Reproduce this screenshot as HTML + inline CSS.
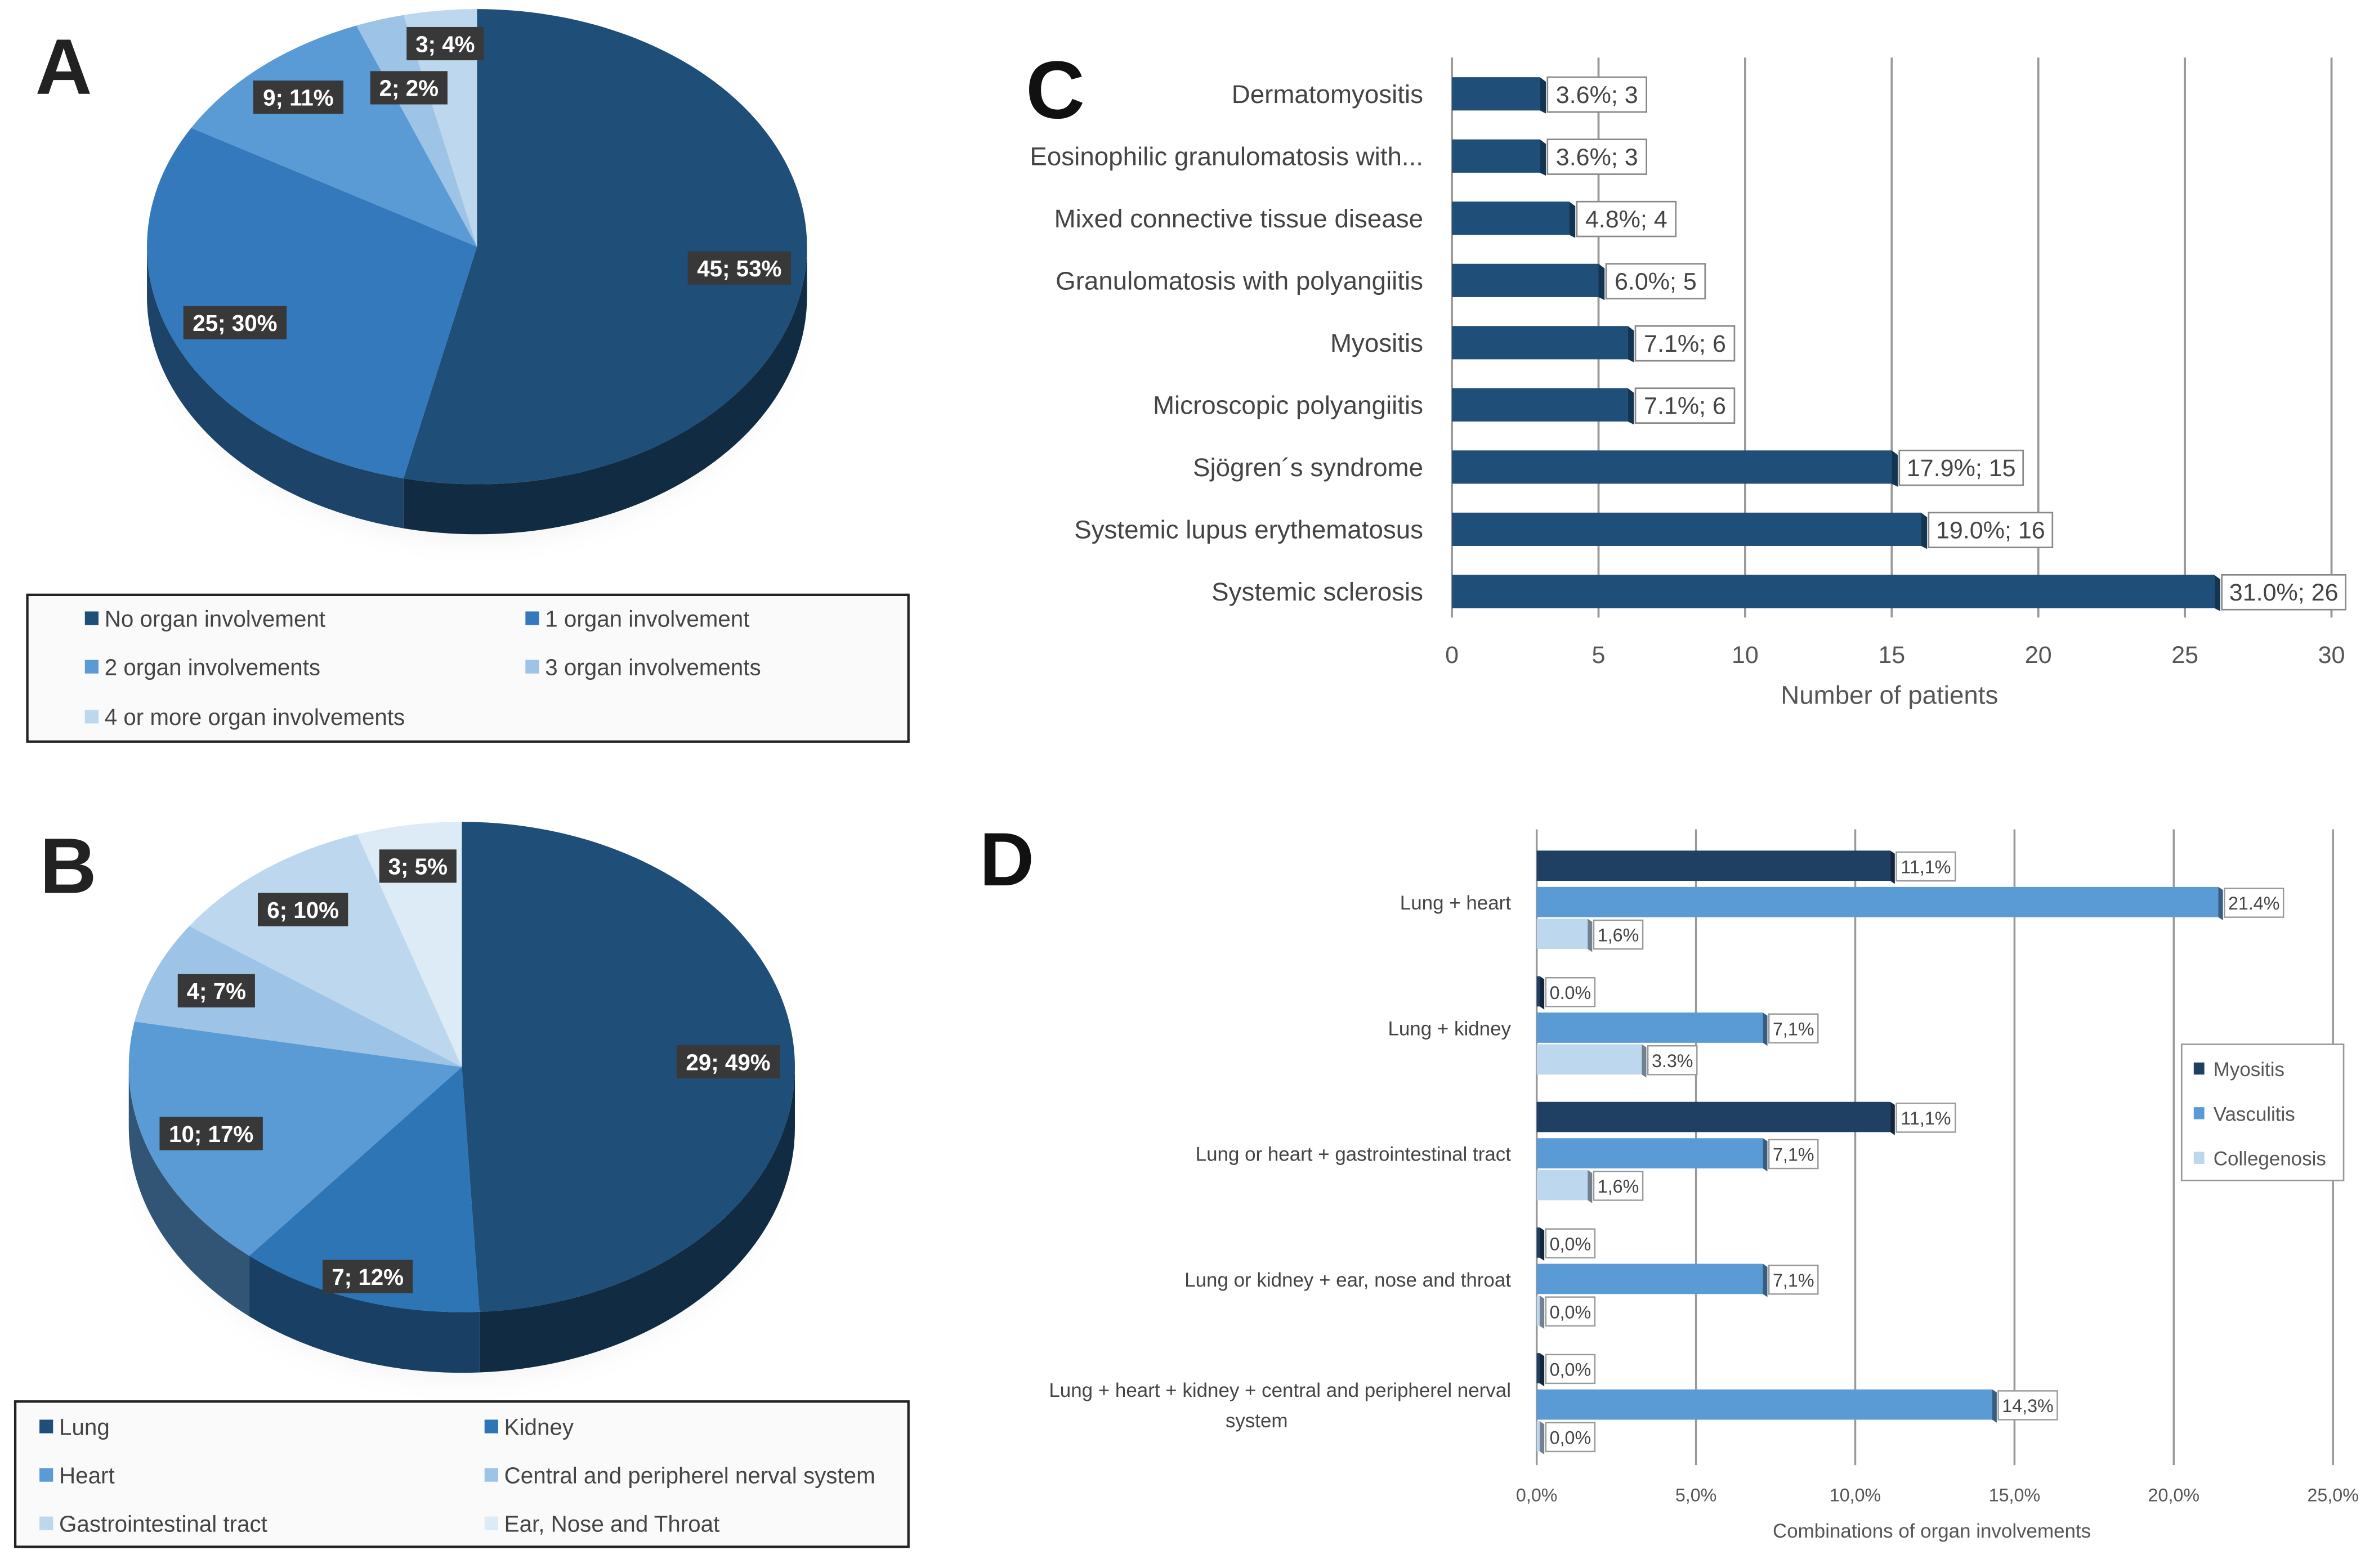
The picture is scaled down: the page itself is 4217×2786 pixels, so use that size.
<!DOCTYPE html>
<html><head><meta charset="utf-8"><style>
html,body{margin:0;padding:0;background:#fff;}
svg{display:block;font-family:"Liberation Sans",sans-serif;}
</style></head><body>
<svg id="s" width="4217" height="2786" viewBox="0 0 1568 1036" xmlns="http://www.w3.org/2000/svg">
<defs>
<radialGradient id="sh" cx="50%" cy="50%" r="50%"><stop offset="70%" stop-color="#cfcfcf"/><stop offset="100%" stop-color="#fff" stop-opacity="0"/></radialGradient>
</defs>
<g id="gA"></g>
<g id="gB"></g>
<g id="gC"></g>
<g id="gD"></g>
</svg>
<script>
// Panel A data
const pieALabels = ["No organ involvement","1 organ involvement","2 organ involvements","3 organ involvements","4 or more organ involvements"];
const pieAValues = [45,25,9,2,3];
const pieAPercents = ["53%","30%","11%","2%","4%"];
// Panel B data
const pieBLabels = ["Lung","Kidney","Heart","Central and peripherel nerval system","Gastrointestinal tract","Ear, Nose and Throat"];
const pieBValues = [29,7,10,4,6,3];
const pieBPercents = ["49%","12%","17%","7%","10%","5%"];
// Panel C data
const cCategories = ["Dermatomyositis","Eosinophilic granulomatosis with...","Mixed connective tissue disease","Granulomatosis with polyangiitis","Myositis","Microscopic polyangiitis","Sjögren´s syndrome","Systemic lupus erythematosus","Systemic sclerosis"];
const cValues = [3,3,4,5,6,6,15,16,26];
const cPercents = ["3.6%","3.6%","4.8%","6.0%","7.1%","7.1%","17.9%","19.0%","31.0%"];
const cTicks = [0,5,10,15,20,25,30];
// Panel D data
const dCategories = [["Lung + heart"],["Lung + kidney"],["Lung or heart + gastrointestinal tract"],["Lung or kidney + ear, nose and throat"],["Lung + heart + kidney + central and peripherel nerval","system"]];
const dSeries = ["Myositis","Vasculitis","Collegenosis"];
const dMyositis = [11.1,0,11.1,0,0];
const dVasculitis = [21.4,7.1,7.1,7.1,14.3];
const dCollegenosis = [1.6,3.3,1.6,0,0];
const dMyositisLbl = ["11,1%","0.0%","11,1%","0,0%","0,0%"];
const dVasculitisLbl = ["21.4%","7,1%","7,1%","7,1%","14,3%"];
const dCollegenosisLbl = ["1,6%","3.3%","1,6%","0,0%","0,0%"];
const dTicks = [0,5,10,15,20,25];
const dTickLbl = ["0,0%","5,0%","10,0%","15,0%","20,0%","25,0%"];

const NS="http://www.w3.org/2000/svg";
function mk(parent,tag,attrs,text){const e=document.createElementNS(NS,tag);for(const k in attrs)e.setAttribute(k,attrs[k]);if(text!==undefined)e.textContent=text;parent.appendChild(e);return e;}
function shade(hex,f){const n=parseInt(hex.slice(1),16);let r=(n>>16)&255,g=(n>>8)&255,b=n&255;r=Math.round(r*f);g=Math.round(g*f);b=Math.round(b*f);return "rgb("+r+","+g+","+b+")";}

function pie(g,letter,lx,ly,cx,cy,rx,ry,depth,values,labels,percents,colors,legend,lblR){
  const t=mk(g,"text",{x:lx,y:ly,"font-size":52,"font-weight":"bold",fill:"#222","text-anchor":"middle"},letter);
  
  
  const sh=mk(g,"ellipse",{cx:cx,cy:cy+depth+8,rx:rx+12,ry:ry+14,fill:"url(#sh)"});
  
  
  const tot=values.reduce((a,b)=>a+b,0);
  const P=(a,dy)=>[cx+rx*Math.sin(a),cy-ry*Math.cos(a)+dy];
  let angs=[],acc=0;
  values.forEach(v=>{const a0=acc/tot*2*Math.PI;acc+=v;angs.push([a0,acc/tot*2*Math.PI]);});
  angs.forEach((ar,i)=>{
    let a0=Math.max(ar[0],Math.PI/2),a1=Math.min(ar[1],3*Math.PI/2);
    if(a1<=a0)return;
    const p0=P(a0,0),p1=P(a1,0),q1=P(a1,depth),q0=P(a0,depth);
    const d=`M${p0} A${rx},${ry} 0 0 1 ${p1} L${q1} A${rx},${ry} 0 0 0 ${q0} Z`;
    const s=mk(g,"path",{d:d,fill:shade(colors[i],0.55)});
    
    
  });
  angs.forEach((ar,i)=>{
    const p0=P(ar[0],0),p1=P(ar[1],0);
    const large=(ar[1]-ar[0])>Math.PI?1:0;
    const s=mk(g,"path",{d:`M${cx},${cy} L${p0} A${rx},${ry} 0 ${large} 1 ${p1} Z`,fill:colors[i]});
    
    
  });
  angs.forEach((ar,i)=>{
    const m=(ar[0]+ar[1])/2;const f=lblR[i];
    const x=cx+f*rx*Math.sin(m),y=cy-f*ry*Math.cos(m);
    const txt=values[i]+"; "+percents[i];const w=txt.length*8.6+8;
    const r=mk(g,"rect",{x:x-w/2,y:y-11,width:w,height:22,fill:"#383838"});
    
    
    const tt=mk(g,"text",{x:x,y:y+5.5,"font-size":15,"font-weight":"bold",fill:"#fff","text-anchor":"middle"},txt);
    
    
  });
  const L=legend;
  const box=mk(g,"rect",{x:L.x,y:L.y,width:L.w,height:L.h,fill:"#fafafa",stroke:"#222","stroke-width":1.6});
  
  
  labels.forEach((lb,i)=>{
    const col=i%2,row=Math.floor(i/2);
    const x=L.cols[col],y=L.rows[row];
    const sq=mk(g,"rect",{x:x,y:y-5,width:9,height:9,fill:colors[i]});
    
    
    const tx=mk(g,"text",{x:x+13,y:y+5,"font-size":15,fill:"#444"},lb);
    
    
  });
}
pie(document.getElementById("gA"),"A",42,62,315,163,218,157,33,pieAValues,pieALabels,pieAPercents,
 ["#1f4e79","#3579bd","#5b9bd5","#9dc3e6","#bdd7ee"],
 {x:18,y:393,w:582,h:97,cols:[56,347],rows:[409,441,474]},[0.8,0.8,0.83,0.7,0.86]);
pie(document.getElementById("gB"),"B",45,590,305,705,220,162,40,pieBValues,pieBLabels,pieBPercents,
 ["#1f4e79","#2e75b6","#5b9bd5","#9dc3e6","#bdd7ee","#ddebf7"],
 {x:10,y:926,w:590,h:96,cols:[26,320],rows:[943,975,1007]},[0.8,0.9,0.8,0.8,0.8,0.83]);

// Panel C
(function(){
  const g=document.getElementById("gC");
  const x0=959,x1=1540,max=30;const X=v=>x0+(x1-x0)*v/max;
  const rowY=i=>62+i*41.1;
  const t=mk(g,"text",{x:697,y:78,"font-size":54,"font-weight":"bold",fill:"#111","text-anchor":"middle"},"C");
  
  
  cTicks.forEach(v=>{
    const l=mk(g,"line",{x1:X(v),y1:38,x2:X(v),y2:408,stroke:"#999","stroke-width":1.4});
    
    
    const tl=mk(g,"text",{x:X(v),y:438,"font-size":16,fill:"#555","text-anchor":"middle"},v);
    
    
  });
  const at=mk(g,"text",{x:1248,y:465,"font-size":17,fill:"#555","text-anchor":"middle"},"Number of patients");
  
  
  cCategories.forEach((c,i)=>{
    const y=rowY(i);
    const lb=mk(g,"text",{x:940,y:y+6,"font-size":17,fill:"#444","text-anchor":"end"},c);
    
    
    const b=mk(g,"rect",{x:x0,y:y-11,width:X(cValues[i])-x0,height:22,fill:"#1f4e79"});
    
    
    const cap=mk(g,"polygon",{points:`${X(cValues[i])},${y-11} ${X(cValues[i])+4},${y-8} ${X(cValues[i])+4},${y+13} ${X(cValues[i])},${y+11}`,fill:"#143552"});
    
    
    const txt=cPercents[i]+"; "+cValues[i];const w=txt.length*8.2+8;
    const r=mk(g,"rect",{x:X(cValues[i])+5,y:y-11,width:w,height:23,fill:"#fff",stroke:"#888","stroke-width":1});
    
    
    const vt=mk(g,"text",{x:X(cValues[i])+5+w/2,y:y+6,"font-size":16,fill:"#444","text-anchor":"middle"},txt);
    
    
  });
})();

// Panel D
(function(){
  const g=document.getElementById("gD");
  const x0=1015,x1=1541,max=25;const X=v=>x0+(x1-x0)*v/max;
  const groupY=[596,679,762,845,928];
  const offs=[-24,0,21];
  const cols=["#1f3f63","#5b9bd5","#bdd7ee"];
  const vals=[dMyositis,dVasculitis,dCollegenosis];
  const lbls=[dMyositisLbl,dVasculitisLbl,dCollegenosisLbl];
  const t=mk(g,"text",{x:665,y:585,"font-size":50,"font-weight":"bold",fill:"#111","text-anchor":"middle"},"D");
  
  
  dTicks.forEach((v,i)=>{
    const l=mk(g,"line",{x1:X(v),y1:548,x2:X(v),y2:968,stroke:"#999","stroke-width":1.3});
    
    
    const tl=mk(g,"text",{x:X(v),y:992,"font-size":12,fill:"#555","text-anchor":"middle"},dTickLbl[i]);
    
    
  });
  const at=mk(g,"text",{x:1276,y:1016,"font-size":13,fill:"#555","text-anchor":"middle"},"Combinations of organ involvements");
  
  
  dCategories.forEach((c,gi)=>{
    const gy=groupY[gi];
    c.forEach((line,li)=>{
      const lb=mk(g,"text",{x:li===0?998:830,y:gy+5-(c.length-1)*10+li*20,"font-size":13,fill:"#444","text-anchor":li===0?"end":"middle"},line);
      
      
    });
    vals.forEach((arr,si)=>{
      const y=gy+offs[si];const v=arr[gi];
      const w=Math.max(X(v)-x0,2);
      const b=mk(g,"rect",{x:x0,y:y-10,width:w,height:20,fill:cols[si]});
      
      
      const cap=mk(g,"polygon",{points:`${x0+w},${y-10} ${x0+w+3},${y-8} ${x0+w+3},${y+12} ${x0+w},${y+10}`,fill:shade(cols[si],0.6)});
      
      
      const txt=lbls[si][gi];const bw=txt.length*6.6+6;
      const r=mk(g,"rect",{x:x0+w+4,y:y-9,width:bw,height:19,fill:"#fff",stroke:"#999","stroke-width":0.9});
      
      
      const vt=mk(g,"text",{x:x0+w+4+bw/2,y:y+5,"font-size":12,fill:"#444","text-anchor":"middle"},txt);
      
      
    });
  });
  const lg=mk(g,"rect",{x:1441,y:690,width:107,height:90,fill:"#fff",stroke:"#999","stroke-width":1});
  
  
  dSeries.forEach((s,i)=>{
    const y=706+i*29.5;
    const sq=mk(g,"rect",{x:1449,y:y-4,width:7,height:8,fill:cols[i]});
    
    
    const tx=mk(g,"text",{x:1462,y:y+5,"font-size":13,fill:"#555"},s);
    
    
  });
})();
</script>
</body></html>
